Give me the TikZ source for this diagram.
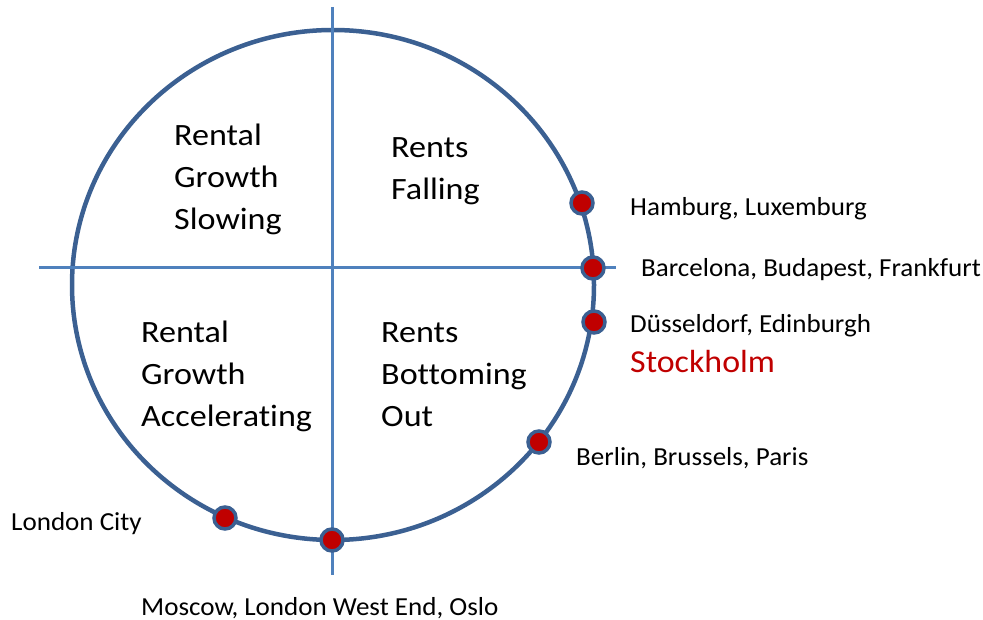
\documentclass[tikz,border=0pt]{standalone}
\usepackage{fontspec}
\setmainfont{Carlito}
\newfontfamily\quadfont[FakeStretch=1.1,Ligatures=NoCommon]{Carlito}
\newfontfamily\cityfont[FakeStretch=1.04,Ligatures=NoCommon]{Carlito}
\newfontfamily\hotfont[FakeStretch=1.06,Ligatures=NoCommon]{Carlito}
\definecolor{ringblue}{HTML}{3B6092}
\definecolor{axisblue}{HTML}{4F81BD}
\definecolor{dotred}{HTML}{C00000}
\begin{document}
\begin{tikzpicture}[x=1pt,y=-1pt,
  ring/.style={draw=ringblue,line width=4.5pt},
  axis/.style={draw=axisblue,line width=3pt},
  citydot/.style={circle,fill=dotred,draw=ringblue,line width=3.5pt,minimum size=22pt,inner sep=0pt},
  quad/.style={font=\quadfont\fontsize{31}{42}\selectfont,align=left,anchor=base west,inner sep=0pt},
  city/.style={font=\cityfont\fontsize{26}{30}\selectfont,anchor=base west,inner sep=0pt},
  hot/.style={font=\hotfont\fontsize{32}{36}\selectfont,anchor=base west,inner sep=0pt,text=dotred}]
\useasboundingbox (0,0) rectangle (983,620);
\draw[ring] (333,285) ellipse [x radius=261, y radius=255];
\coordinate (vt) at (332,7);
\coordinate (vb) at (332,575);
\coordinate (hl) at (39,268);
\coordinate (hr) at (616,268);
\draw[axis] (vt) -- (vb);
\draw[axis] (hl) -- (hr);
\node[citydot] (d1) at (582,203) {};
\node[citydot] (d2) at (593,268) {};
\node[citydot] (d3) at (594,322) {};
\node[citydot] (d4) at (539,442) {};
\node[citydot] (d5) at (225,518) {};
\node[citydot] (d6) at (332,540) {};
\node[quad] (q1) at (174,230) {Rental\\Growth\\Slowing};
\node[quad] (q2) at (391,200) {Rents\\Falling};
\node[quad] (q3) at (141,426) {Rental\\Growth\\Accelerating};
\node[quad] (q4) at (381,426) {Rents\\Bottoming\\Out};
\node[city] (l1) at (630,216) {Hamburg, Luxemburg};
\node[city] (l2) at (641,277) {Barcelona, Budapest, Frankfurt};
\node[city] (l3) at (630,333) {Düsseldorf, Edinburgh};
\node[hot] (l3b) at (630,373) {Stockholm};
\node[city] (l4) at (576,465) {Berlin, Brussels, Paris};
\node[city] (l5) at (11,530) {London City};
\node[city] (l6) at (141,615) {Moscow, London West End, Oslo};
\end{tikzpicture}
\end{document}
